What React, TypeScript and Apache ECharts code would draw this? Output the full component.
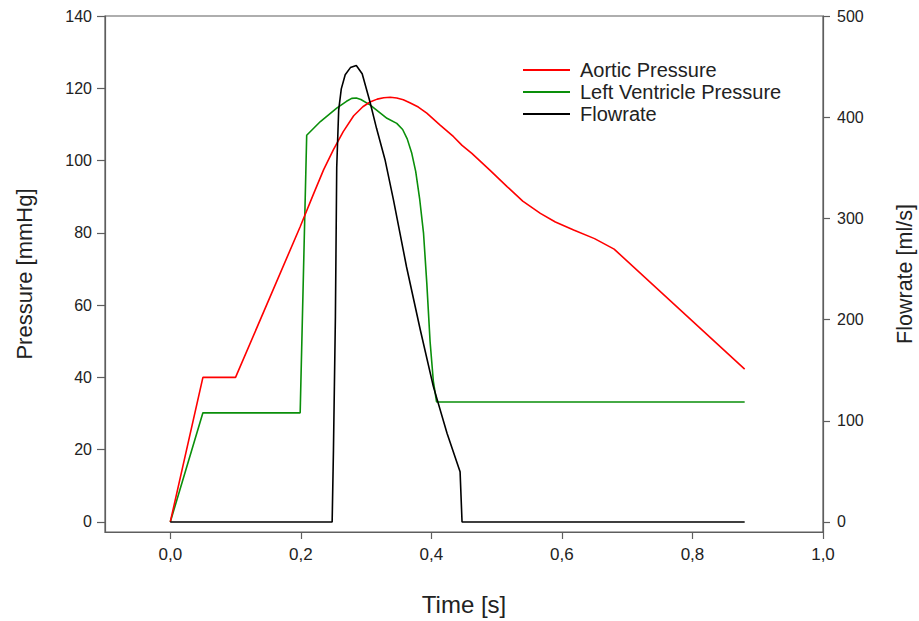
import React, { useEffect, useRef } from "react";
import * as echarts from "echarts";

const aorticTime = [0, 0.05, 0.1, 0.199, 0.22, 0.235, 0.25, 0.265, 0.281, 0.295, 0.306, 0.317, 0.327, 0.337, 0.347, 0.357, 0.367, 0.38, 0.393, 0.413, 0.434, 0.447, 0.462, 0.49, 0.516, 0.54, 0.567, 0.59, 0.618, 0.65, 0.68, 0.88];
const aorticPressure = [0, 40, 40, 81.7, 91, 97.5, 103, 108, 112.4, 114.9, 116.2, 117, 117.4, 117.5, 117.3, 116.8, 116, 114.8, 113.1, 109.9, 106.6, 104.2, 102, 97.3, 92.8, 88.8, 85.4, 83, 80.8, 78.4, 75.5, 42.3];

const lvTime = [0, 0.05, 0.199, 0.209, 0.23, 0.255, 0.27, 0.278, 0.285, 0.292, 0.306, 0.332, 0.347, 0.356, 0.363, 0.37, 0.376, 0.382, 0.388, 0.393, 0.398, 0.403, 0.408, 0.88];
const lvPressure = [0, 30.2, 30.2, 107, 110.8, 114.5, 116.4, 117.2, 117.3, 116.9, 115.4, 111.7, 110.3, 108.6, 106, 102, 97, 89.5, 79.9, 66.1, 50, 39, 33.2, 33.2];

const flowTime = [0, 0.248, 0.25, 0.253, 0.255, 0.258, 0.262, 0.268, 0.276, 0.285, 0.294, 0.306, 0.316, 0.329, 0.342, 0.362, 0.383, 0.403, 0.424, 0.444, 0.447, 0.88];
const flowRate = [0, 0, 71, 203, 350, 407, 428, 442, 449, 451, 443, 415, 389, 358, 318, 252, 190, 134, 87.6, 49.7, 0, 0];

const timeTicks = [0, 0.2, 0.4, 0.6, 0.8, 1.0];
const pressureTicks = [0, 20, 40, 60, 80, 100, 120, 140];
const flowTicks = [0, 100, 200, 300, 400, 500];

const seriesNames = ["Aortic Pressure", "Left Ventricle Pressure", "Flowrate"];
const seriesColors = ["#ff0000", "#0a8f0a", "#000000"];

const pairs = (t: number[], v: number[]) => t.map((x, i) => [x, v[i]]);

const FONT = "'Liberation Sans', Arial, sans-serif";
const AXIS_COLOR = "#5e5e5e";
const TEXT_COLOR = "#222222";

export default function App() {
  const ref = useRef<HTMLDivElement>(null);
  useEffect(() => {
    if (!ref.current) return;
    const chart = echarts.init(ref.current, undefined, { renderer: "svg" });
    const axisLineStyle = { show: true, onZero: false, lineStyle: { color: AXIS_COLOR, width: 1.2 } };
    chart.setOption({
      animation: false,
      backgroundColor: "#ffffff",
      textStyle: { fontFamily: FONT },
      grid: {
        left: 105,
        right: 96,
        top: 16,
        bottom: 89,
        outerBoundsMode: "none",
        containLabel: false,
        show: true,
        borderColor: AXIS_COLOR,
        borderWidth: 1.2,
      },
      legend: {
        orient: "vertical",
        left: 523,
        top: 60,
        padding: 0,
        icon: "rect",
        itemWidth: 47,
        itemHeight: 2,
        itemGap: 2,
        data: seriesNames,
        textStyle: { fontFamily: FONT, fontSize: 20, color: TEXT_COLOR, padding: [0, 0, 0, 5] },
      },
      xAxis: {
        type: "value",
        min: -0.1,
        max: 1.0,
        name: "Time [s]",
        nameLocation: "middle",
        nameGap: 60,
        nameTextStyle: { fontFamily: FONT, fontSize: 24, color: TEXT_COLOR },
        axisLine: axisLineStyle,
        axisTick: { show: true, length: 7, inside: false, customValues: timeTicks, lineStyle: { color: AXIS_COLOR, width: 1.2 } },
        axisLabel: {
          customValues: timeTicks,
          margin: 14,
          fontFamily: FONT,
          fontSize: 17,
          color: TEXT_COLOR,
          formatter: (v: number) => v.toFixed(1).replace(".", ","),
        },
        splitLine: { show: false },
      },
      yAxis: [
        {
          type: "value",
          position: "left",
          min: -2.77,
          max: 140,
          name: "Pressure [mmHg]",
          nameLocation: "middle",
          nameGap: 70,
          nameRotate: 90,
          nameTextStyle: { fontFamily: FONT, fontSize: 22, color: TEXT_COLOR },
          axisLine: axisLineStyle,
          axisTick: { show: true, length: 8, customValues: pressureTicks, lineStyle: { color: AXIS_COLOR, width: 1.2 } },
          axisLabel: { customValues: pressureTicks, margin: 13, fontFamily: FONT, fontSize: 16, color: TEXT_COLOR },
          splitLine: { show: false },
        },
        {
          type: "value",
          position: "right",
          min: -9.89,
          max: 500,
          name: "Flowrate [ml/s]",
          nameLocation: "middle",
          nameGap: 71,
          nameRotate: 90,
          nameTextStyle: { fontFamily: FONT, fontSize: 21.5, color: TEXT_COLOR },
          axisLine: axisLineStyle,
          axisTick: { show: true, length: 7, customValues: flowTicks, lineStyle: { color: AXIS_COLOR, width: 1.2 } },
          axisLabel: { customValues: flowTicks, margin: 14, fontFamily: FONT, fontSize: 16, color: TEXT_COLOR },
          splitLine: { show: false },
        },
      ],
      series: [
        {
          name: seriesNames[0],
          type: "line",
          yAxisIndex: 0,
          data: pairs(aorticTime, aorticPressure),
          showSymbol: false,
          symbol: "none",
          lineStyle: { color: seriesColors[0], width: 1.6 },
          itemStyle: { color: seriesColors[0] },
          z: 3,
        },
        {
          name: seriesNames[1],
          type: "line",
          yAxisIndex: 0,
          data: pairs(lvTime, lvPressure),
          showSymbol: false,
          symbol: "none",
          lineStyle: { color: seriesColors[1], width: 1.6 },
          itemStyle: { color: seriesColors[1] },
          z: 2,
        },
        {
          name: seriesNames[2],
          type: "line",
          yAxisIndex: 1,
          data: pairs(flowTime, flowRate),
          showSymbol: false,
          symbol: "none",
          lineStyle: { color: seriesColors[2], width: 1.6 },
          itemStyle: { color: seriesColors[2] },
          z: 4,
        },
      ],
    });
    return () => chart.dispose();
  }, []);
  return <div ref={ref} style={{ position: "fixed", left: 0, top: 0, width: 919, height: 621, background: "#fff" }} />;
}
